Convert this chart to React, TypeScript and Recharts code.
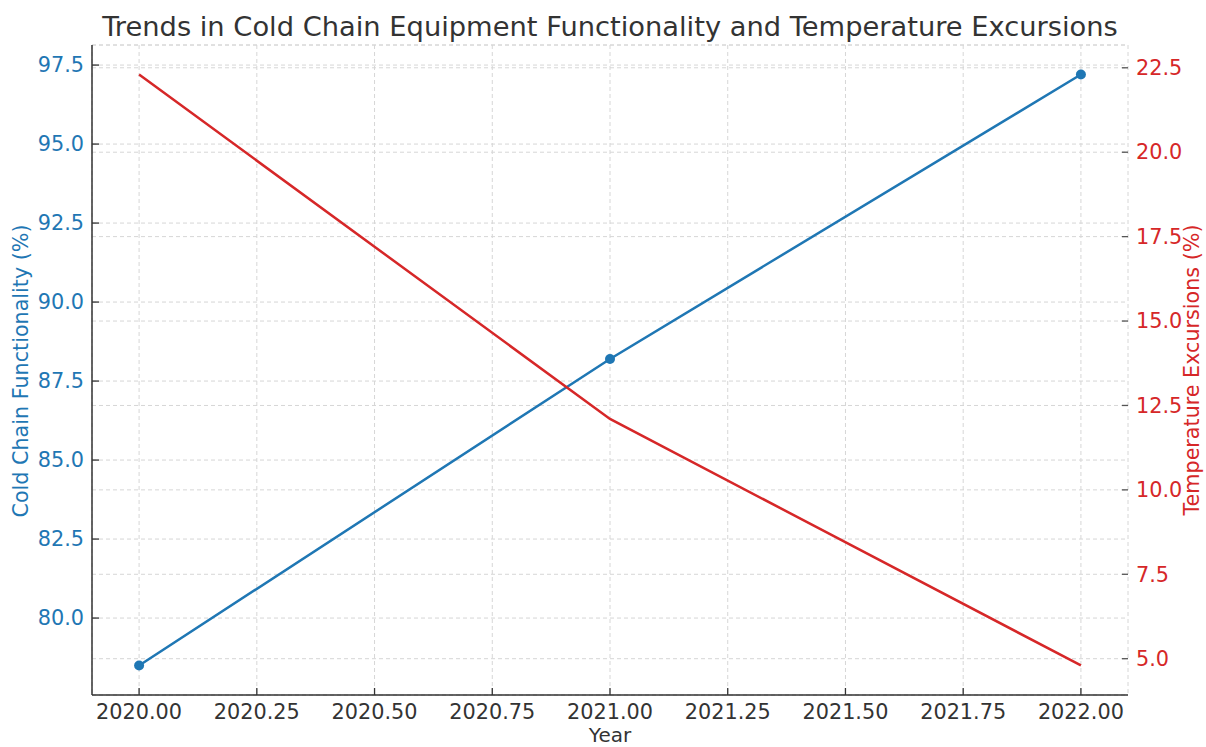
import { LineChart, Line, XAxis, YAxis, CartesianGrid } from 'recharts';

const years = [2020, 2021, 2022];
const functionality = [78.5, 88.2, 97.2];
const excursions = [22.3, 12.1, 4.8];

const xTicks = [2020, 2020.25, 2020.5, 2020.75, 2021, 2021.25, 2021.5, 2021.75, 2022];
const leftTicks = [80, 82.5, 85, 87.5, 90, 92.5, 95, 97.5];
const rightTicks = [5, 7.5, 10, 12.5, 15, 17.5, 20, 22.5];

const data = years.map((y, i) => ({
  year: y,
  functionality: functionality[i],
  excursions: excursions[i],
}));

const BLUE = '#1f77b4';
const RED = '#d62728';
const FONT = '"DejaVu Sans", sans-serif';
const TICK_FS = 20.8;

function LeftTick({ x, y, payload }: any) {
  const ax = x + 8;
  return (
    <g>
      <line x1={ax} x2={ax + 7} y1={y} y2={y} stroke="#333" strokeWidth={1.3} />
      <text x={x} y={y} dy="0.35em" textAnchor="end" fill={BLUE} fontSize={TICK_FS} fontFamily={FONT}>
        {payload.value.toFixed(1)}
      </text>
    </g>
  );
}

function RightTick({ x, y, payload }: any) {
  const ax = x - 8;
  return (
    <g>
      <line x1={ax} x2={ax - 6} y1={y} y2={y} stroke="#555" strokeWidth={1.3} />
      <text x={x} y={y} dy="0.35em" textAnchor="start" fill={RED} fontSize={TICK_FS} fontFamily={FONT}>
        {payload.value.toFixed(1)}
      </text>
    </g>
  );
}

function BottomTick({ x, y, payload }: any) {
  const ay = y - 9;
  return (
    <g>
      <line x1={x} x2={x} y1={ay} y2={ay - 7} stroke="#333" strokeWidth={1.3} />
      <text x={x} y={y} dy="0.71em" textAnchor="middle" fill="#333" fontSize={TICK_FS} fontFamily={FONT}>
        {payload.value.toFixed(2)}
      </text>
    </g>
  );
}

export default function App() {
  return (
    <div style={{ position: 'absolute', left: 0, top: 0, width: 1206, height: 747, background: '#fff' }}>
      <LineChart
        width={1206}
        height={747}
        data={data}
        margin={{ top: 45, right: 0, bottom: 0, left: 0 }}
      >
        <CartesianGrid yAxisId="left" stroke="#d6d6d6" strokeDasharray="4 3" />
        <CartesianGrid yAxisId="right" vertical={false} stroke="#d6d6d6" strokeDasharray="4 3" />
        <XAxis
          dataKey="year"
          type="number"
          domain={[2019.9, 2022.1]}
          ticks={xTicks}
          height={52}
          tickSize={0}
          tickMargin={9}
          tick={<BottomTick />}
          axisLine={{ stroke: '#333', strokeWidth: 1.5 }}
          tickLine={false}
          interval={0}
          allowDataOverflow
        />
        <YAxis
          yAxisId="left"
          orientation="left"
          type="number"
          domain={[77.565, 98.135]}
          ticks={leftTicks}
          width={92}
          tickSize={0}
          tickMargin={8}
          tick={<LeftTick />}
          axisLine={{ stroke: '#333', strokeWidth: 1.5 }}
          tickLine={false}
          interval={0}
          allowDataOverflow
        />
        <YAxis
          yAxisId="right"
          orientation="right"
          type="number"
          domain={[3.925, 23.175]}
          ticks={rightTicks}
          width={78}
          tickSize={0}
          tickMargin={8}
          tick={<RightTick />}
          axisLine={false}
          tickLine={false}
          interval={0}
          allowDataOverflow
        />
        <Line
          yAxisId="left"
          type="linear"
          dataKey="functionality"
          stroke={BLUE}
          strokeWidth={2.5}
          dot={{ r: 5, fill: BLUE, stroke: BLUE, strokeWidth: 0 }}
          activeDot={false}
          isAnimationActive={false}
        />
        <Line
          yAxisId="right"
          type="linear"
          dataKey="excursions"
          stroke={RED}
          strokeWidth={2.5}
          dot={false}
          activeDot={false}
          isAnimationActive={false}
        />
      </LineChart>
      <svg
        width={1206}
        height={747}
        style={{ position: 'absolute', left: 0, top: 0, pointerEvents: 'none' }}
      >
        <text x={610} y={36} textAnchor="middle" fill="#333" fontSize={27.3} fontFamily={FONT}>
          Trends in Cold Chain Equipment Functionality and Temperature Excursions
        </text>
        <text x={610} y={742} textAnchor="middle" fill="#333" fontSize={20} fontFamily={FONT}>
          Year
        </text>
        <text
          x={0}
          y={0}
          transform="translate(28 371) rotate(-90)"
          textAnchor="middle"
          fill={BLUE}
          fontSize={20.7}
          fontFamily={FONT}
        >
          Cold Chain Functionality (%)
        </text>
        <text
          x={0}
          y={0}
          transform="translate(1199 370) rotate(-90)"
          textAnchor="middle"
          fill={RED}
          fontSize={20.7}
          fontFamily={FONT}
        >
          Temperature Excursions (%)
        </text>
      </svg>
    </div>
  );
}
